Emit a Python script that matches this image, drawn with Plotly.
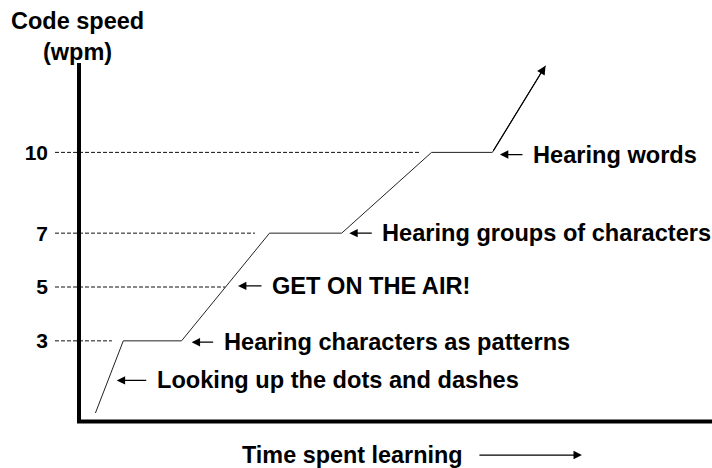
import plotly.graph_objects as go

# ---- data (arbitrary time units 0-100) ----
time_spent = [2.6, 7.0, 16.2, 30.1, 41.5, 55.7, 65.3, 73.7]
code_speed = [0.32, 3, 3, 7, 7, 10, 10, 13.22]

speed_levels = [3, 5, 7, 10]
speed_labels = ["3", "5", "7", "10"]
guide_end_time = [5.2, 23.1, 27.8, 53.9]

stage_labels = [
    "Looking up the dots and dashes",
    "Hearing characters as patterns",
    "GET ON THE AIR!",
    "Hearing groups of characters",
    "Hearing words",
]
stage_time = [5.96, 17.8, 25.12, 42.7, 66.5]
stage_speed = [1.53, 2.95, 5.04, 7, 9.92]

# ---- style ----
FONT = "Liberation Sans, Arial, sans-serif"
X_RANGE = [-3.79, 100]
Y_RANGE = [-0.2, 13.32]
arrow_px = [31, 23, 25, 24, 24]
text_gap = 7

fig = go.Figure()

# dashed guide lines
for lvl, xe in zip(speed_levels, guide_end_time):
    fig.add_trace(go.Scatter(
        x=[X_RANGE[0], xe], y=[lvl, lvl], mode="lines",
        line=dict(color="#111111", width=1, dash="4px,2px"),
        hoverinfo="skip", showlegend=False))

# axes drawn as thick lines
fig.add_trace(go.Scatter(
    x=[0, 0, X_RANGE[1]], y=[Y_RANGE[1], 0, 0], mode="lines",
    line=dict(color="black", width=4), hoverinfo="skip", showlegend=False))

# learning curve
fig.add_trace(go.Scatter(
    x=time_spent, y=code_speed, mode="lines",
    line=dict(color="#222222", width=1), showlegend=False))

# arrow head at the end of the curve
fig.add_annotation(
    x=time_spent[-1], y=code_speed[-1], ax=time_spent[-2], ay=code_speed[-2],
    xref="x", yref="y", axref="x", ayref="y", text="", showarrow=True,
    arrowhead=2, arrowsize=1.6, arrowwidth=1.1, arrowcolor="black")

# stage labels with pointer arrows
for txt, t, s, apx in zip(stage_labels, stage_time, stage_speed, arrow_px):
    fig.add_annotation(
        x=t, y=s, ax=apx, ay=0, xref="x", yref="y", text="", showarrow=True,
        arrowhead=2, arrowsize=1.4, arrowwidth=1.2, arrowcolor="black")
    fig.add_annotation(
        x=t, y=s, xref="x", yref="y", text=txt, showarrow=False,
        xanchor="left", yanchor="middle", xshift=apx + text_gap,
        font=dict(family=FONT, size=23.6, color="black", weight="bold"))

# axis titles
fig.add_annotation(
    x=0.035, y=1.0728, xref="paper", yref="paper", text="Code speed<br>(wpm)",
    showarrow=False, xanchor="center", yanchor="middle", align="center",
    font=dict(family=FONT, size=23.5, color="black", weight="bold"))
fig.add_annotation(
    x=0.4527, y=-0.0824, xref="paper", yref="paper", text="Time spent learning",
    showarrow=False, xanchor="center", yanchor="middle", yshift=2,
    font=dict(family=FONT, size=23.4, color="black", weight="bold"))
fig.add_annotation(
    x=0.802, y=-0.077, xref="paper", yref="paper", ax=-104, ay=0, text="",
    showarrow=True, arrowhead=2, arrowsize=1.4, arrowwidth=1.2, arrowcolor="black")

fig.update_xaxes(range=X_RANGE, showgrid=False, zeroline=False, showline=False,
                 showticklabels=False, ticks="")
fig.update_yaxes(range=Y_RANGE, showgrid=False, zeroline=False, showline=False,
                 tickmode="array", tickvals=speed_levels, ticktext=speed_labels,
                 ticks="", ticklabelstandoff=6,
                 tickfont=dict(family=FONT, size=21, color="black", weight="bold"))

fig.update_layout(
    width=712, height=468, margin=dict(l=55, r=0, t=63, b=41),
    paper_bgcolor="white", plot_bgcolor="white", showlegend=False)

fig.write_html("out.html", config={"displayModeBar": False},
               post_script="document.body.style.margin='0px';")
